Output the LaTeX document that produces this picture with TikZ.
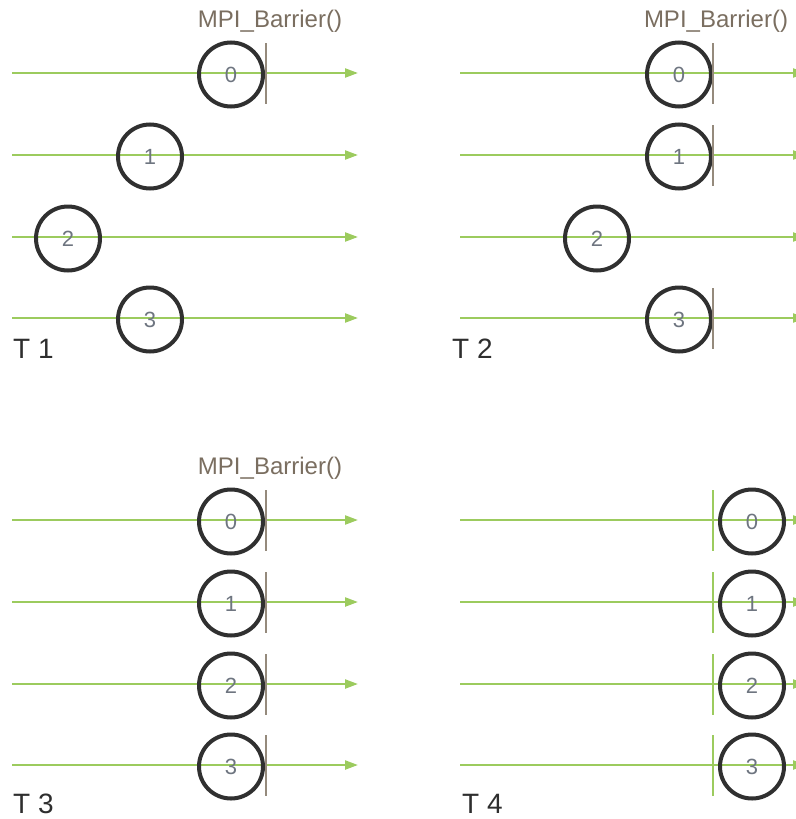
\documentclass[tikz,border=0pt]{standalone}
\usepackage{fontspec}
\setmainfont{Liberation Sans}
\usetikzlibrary{arrows.meta}
\definecolor{tline}{HTML}{9CCB5E}
\definecolor{barc}{HTML}{958A7C}
\definecolor{mpic}{HTML}{7A6E60}
\definecolor{circc}{HTML}{303030}
\definecolor{digc}{HTML}{6E7580}
\definecolor{lblc}{HTML}{2E2E2E}
\tikzset{
  timeline/.style={draw=tline,line width=2.2pt,-{Triangle[length=13pt,width=9pt]}},
  proc/.style={circle,draw=circc,line width=4pt,minimum size=64pt,inner sep=0pt,
    text=digc,font=\fontsize{22}{22}\selectfont},
  barrier/.style={draw=barc,line width=2.5pt},
  gbarrier/.style={draw=tline,line width=2pt},
  mpilbl/.style={text=mpic,font=\fontsize{24}{24}\selectfont,inner sep=0pt},
  panellbl/.style={text=lblc,font=\fontsize{28}{28}\selectfont,inner sep=0pt,anchor=base west}
}
\begin{document}
\begin{tikzpicture}[x=1pt,y=-1pt]
\useasboundingbox (0,0) rectangle (795,819);
% ---------- T1 ----------
\foreach \i/\y/\cx/\d in {a/73/231/0,b/155/150/1,c/237/68/2,d/318/150/3}{
  \coordinate (s1\i) at (12,\y);
  \coordinate (e1\i) at (358,\y);
  \draw[timeline] (s1\i) -- (e1\i);
  \node[proc] (p1\i) at (\cx,\y+1.5) {\d};
}
\coordinate (b1t) at (266,43);
\coordinate (b1b) at (266,104);
\draw[barrier] (b1t) -- (b1b);
\node[mpilbl] (m1) at (270,21) {MPI\_Barrier()};
\node[panellbl] (t1) at (13,358) {T 1};
% ---------- T2 ----------
\foreach \i/\y/\cx/\d in {a/73/679/0,b/155/679/1,c/237/597/2,d/318/679/3}{
  \coordinate (s2\i) at (460,\y);
  \coordinate (e2\i) at (806,\y);
  \draw[timeline] (s2\i) -- (e2\i);
  \node[proc] (p2\i) at (\cx,\y+1.5) {\d};
}
\foreach \i/\y in {a/73,b/155,d/318}{
  \coordinate (b2\i t) at (713,\y-30);
  \coordinate (b2\i b) at (713,\y+31);
  \draw[barrier] (b2\i t) -- (b2\i b);
}
\node[mpilbl] (m2) at (716,21) {MPI\_Barrier()};
\node[panellbl] (t2) at (452,358) {T 2};
% ---------- T3 ----------
\foreach \i/\y/\d in {a/520/0,b/602/1,c/684/2,d/765/3}{
  \coordinate (s3\i) at (12,\y);
  \coordinate (e3\i) at (358,\y);
  \draw[timeline] (s3\i) -- (e3\i);
  \node[proc] (p3\i) at (231,\y+1.5) {\d};
  \coordinate (b3\i t) at (266,\y-30);
  \coordinate (b3\i b) at (266,\y+31);
  \draw[barrier] (b3\i t) -- (b3\i b);
}
\node[mpilbl] (m3) at (270,468) {MPI\_Barrier()};
\node[panellbl] (t3) at (13,813) {T 3};
% ---------- T4 ----------
\foreach \i/\y/\d in {a/520/0,b/602/1,c/684/2,d/765/3}{
  \coordinate (s4\i) at (460,\y);
  \coordinate (e4\i) at (806,\y);
  \draw[timeline] (s4\i) -- (e4\i);
  \coordinate (b4\i t) at (713,\y-30);
  \coordinate (b4\i b) at (713,\y+31);
  \draw[gbarrier] (b4\i t) -- (b4\i b);
  \node[proc] (p4\i) at (752,\y+1.5) {\d};
}
\node[panellbl] (t4) at (462,813) {T 4};
\end{tikzpicture}
\end{document}
